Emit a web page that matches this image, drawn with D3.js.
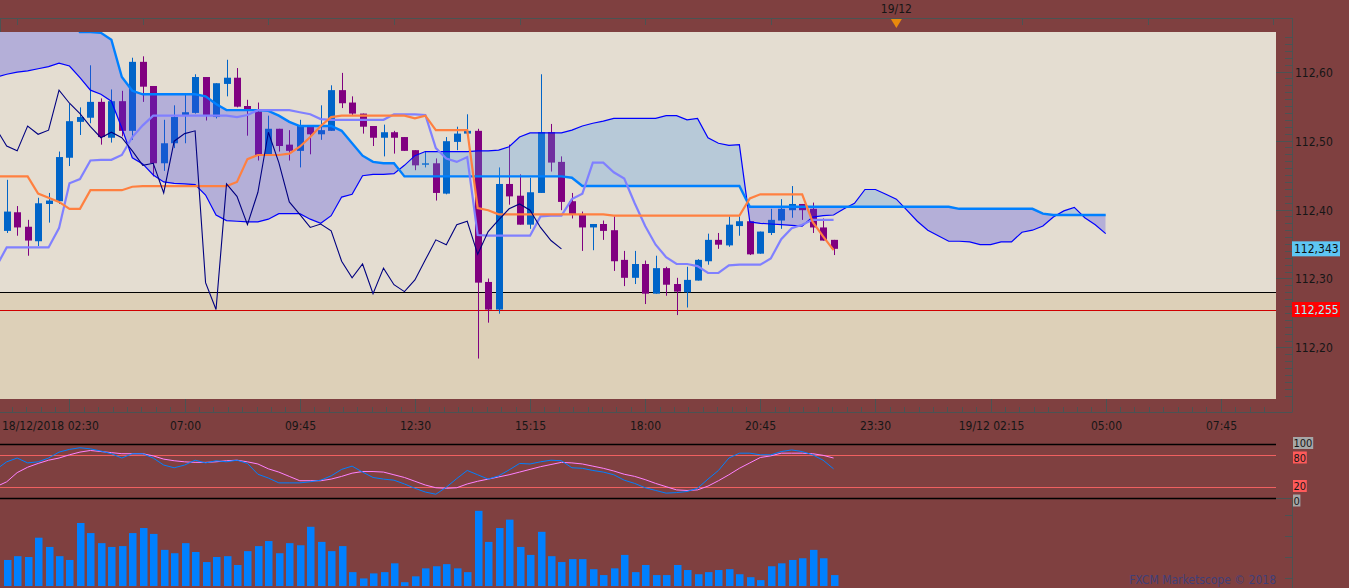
<!DOCTYPE html>
<html><head><meta charset="utf-8">
<script src="https://cdn.jsdelivr.net/npm/d3@7"></script>
<style>html,body{margin:0;padding:0;background:#7f4040;overflow:hidden}
text{font-family:"DejaVu Sans Condensed","Liberation Sans",sans-serif;font-size:12px;fill:#161616}</style>
</head><body>
<svg id="c" width="1349" height="588"></svg>
<script>
// ---------------- data ----------------
// candles: 15-minute bars from 18/12/2018 02:45
const openP = [112.369,112.396,112.375,112.354,112.408,112.412,112.475,112.527,112.533,112.556,
112.504,112.557,112.514,112.614,112.579,112.467,112.496,112.537,112.540,112.592,
112.534,112.582,112.591,112.550,112.542,112.480,112.517,112.494,112.485,112.520,
112.509,112.514,112.573,112.555,112.539,112.521,112.504,112.512,112.505,112.486,
112.465,112.467,112.423,112.498,112.510,112.514,112.295,112.255,112.437,112.420,
112.378,112.424,112.512,112.469,112.412,112.392,112.374,112.379,112.370,112.327,
112.301,112.321,112.278,112.315,112.292,112.280,112.297,112.325,112.356,112.348,
112.376,112.383,112.336,112.366,112.384,112.399,112.408,112.401,112.374,112.356];
const highP = [112.443,112.405,112.385,112.417,112.424,112.484,112.553,112.548,112.609,112.561,
112.574,112.572,112.620,112.622,112.579,112.530,112.551,112.566,112.596,112.592,
112.583,112.617,112.605,112.559,112.555,112.536,112.517,112.515,112.530,112.520,
112.551,112.580,112.598,112.564,112.539,112.521,112.523,112.514,112.505,112.486,
112.484,112.474,112.505,112.520,112.538,112.517,112.300,112.461,112.494,112.451,
112.446,112.596,112.524,112.477,112.424,112.397,112.379,112.384,112.390,112.340,
112.340,112.326,112.333,112.317,112.301,112.317,112.328,112.365,112.366,112.390,
112.390,112.383,112.368,112.401,112.415,112.434,112.408,112.410,112.387,112.356];
const lowP = [112.366,112.362,112.333,112.347,112.381,112.408,112.463,112.508,112.525,112.494,
112.497,112.506,112.501,112.556,112.448,112.456,112.489,112.496,112.539,112.529,
112.532,112.564,112.548,112.507,112.471,112.478,112.484,112.471,112.461,112.480,
112.501,112.514,112.547,112.537,112.510,112.492,112.477,112.481,112.485,112.457,
112.461,112.413,112.422,112.486,112.510,112.184,112.236,112.249,112.407,112.378,
112.372,112.424,112.455,112.399,112.387,112.340,112.341,112.356,112.311,112.289,
112.292,112.263,112.278,112.275,112.247,112.258,112.297,112.320,112.343,112.346,
112.362,112.334,112.336,112.363,112.372,112.388,112.385,112.366,112.355,112.334];
const closeP = [112.397,112.374,112.355,112.409,112.413,112.476,112.528,112.534,112.556,112.505,
112.557,112.514,112.614,112.578,112.467,112.496,112.534,112.541,112.592,112.537,
112.583,112.591,112.549,112.543,112.478,112.517,112.492,112.485,112.521,112.509,
112.515,112.573,112.554,112.539,112.520,112.504,112.512,112.504,112.485,112.464,
112.467,112.424,112.499,112.510,112.514,112.294,112.255,112.437,112.419,112.378,
112.425,112.512,112.468,112.411,112.393,112.374,112.379,112.369,112.325,112.301,
112.321,112.278,112.315,112.291,112.281,112.298,112.327,112.356,112.349,112.378,
112.383,112.335,112.368,112.385,112.401,112.408,112.399,112.374,112.355,112.343];

// indicator lines: start one bar earlier (02:30)
const lineStartBar = -1;
const tenkan = [112.448,112.448,112.448,112.448,112.423,112.417,112.411,112.401,112.401,112.428,112.428,
112.428,112.428,112.433,112.434,112.434,112.434,112.434,112.434,112.434,112.434,
112.434,112.434,112.440,112.473,112.479,112.479,112.479,112.481,112.491,112.505,
112.521,112.534,112.536,112.536,112.536,112.536,112.536,112.536,112.536,112.532,
112.536,112.515,112.515,112.515,112.515,112.402,112.399,112.393,112.393,112.393,
112.393,112.393,112.393,112.393,112.393,112.393,112.393,112.393,112.391,112.391,
112.391,112.391,112.391,112.391,112.391,112.391,112.391,112.391,112.391,112.391,
112.391,112.416,112.422,112.422,112.422,112.422,112.422,112.382,112.361,112.341];
const kijun = [112.317,112.345,112.345,112.345,112.345,112.345,112.373,112.438,112.444,112.471,112.472,
112.472,112.479,112.505,112.522,112.536,112.536,112.536,112.536,112.536,112.536,
112.536,112.536,112.534,112.537,112.544,112.544,112.544,112.544,112.541,112.538,
112.531,112.530,112.530,112.530,112.530,112.530,112.530,112.538,112.538,112.538,
112.537,112.489,112.474,112.469,112.476,112.363,112.362,112.362,112.362,112.362,
112.362,112.390,112.391,112.391,112.415,112.423,112.468,112.468,112.454,112.445,
112.409,112.376,112.349,112.331,112.321,112.321,112.318,112.308,112.308,112.319,
112.320,112.320,112.320,112.329,112.357,112.373,112.378,112.385,112.385,112.385];
const senkouA = [112.592,112.596,112.599,112.601,112.604,112.607,112.612,112.608,112.591,112.573,112.567,
112.557,112.518,112.475,112.466,112.450,112.440,112.438,112.437,112.436,112.421,
112.392,112.384,112.383,112.382,112.382,112.386,112.394,112.394,112.394,112.386,
112.380,112.391,112.418,112.422,112.449,112.451,112.451,112.452,112.464,112.478,
112.484,112.484,112.484,112.484,112.484,112.485,112.485,112.486,112.491,112.505,
112.511,112.511,112.511,112.511,112.515,112.521,112.525,112.528,112.532,112.532,
112.532,112.532,112.532,112.536,112.536,112.530,112.532,112.504,112.496,112.493,
112.494,112.382,112.380,112.379,112.378,112.377,112.376,112.389,112.391,112.392,
112.401,112.409,112.429,112.429,112.422,112.415,112.399,112.383,112.370,112.362,
112.354,112.354,112.353,112.349,112.349,112.353,112.353,112.367,112.370,112.376,
112.389,112.398,112.403,112.388,112.378,112.365];
const senkouB = [112.680,112.680,112.680,112.680,112.680,112.680,112.680,112.680,112.657,112.657,112.656,
112.646,112.592,112.572,112.567,112.567,112.567,112.567,112.567,112.567,112.564,
112.553,112.544,112.544,112.544,112.544,112.543,112.536,112.527,112.521,112.521,
112.521,112.521,112.514,112.496,112.478,112.469,112.467,112.467,112.448,112.448,
112.448,112.448,112.448,112.448,112.448,112.448,112.448,112.448,112.448,112.448,
112.448,112.448,112.448,112.448,112.446,112.434,112.434,112.434,112.434,112.434,
112.434,112.434,112.434,112.434,112.434,112.434,112.434,112.434,112.434,112.434,
112.434,112.404,112.404,112.404,112.404,112.404,112.404,112.404,112.404,112.404,
112.404,112.404,112.404,112.404,112.404,112.404,112.404,112.404,112.404,112.404,
112.404,112.401,112.401,112.401,112.401,112.401,112.401,112.401,112.401,112.394,
112.392,112.392,112.392,112.392,112.392,112.392];
const stochK = [53,67,74,65,67,74,85,90,93,91,87,82,74,82,82,74,61,56,61,70,65,
69,67,70,64,44,37,28,28,28,30,33,41,53,59,48,38,35,33,26,18,
11,7,20,36,51,43,35,41,52,64,63,67,70,69,56,55,51,48,43,33,
27,19,14,9,10,12,18,35,51,74,83,83,80,80,86,89,86,80,70,54];
const stochD = [21,30,47,57,64,70,74,80,85,88,86,84,82,82,82,78,72,69,67,66,66,
67,69,70,67,63,54,48,40,32,32,32,35,40,46,49,49,48,43,38,31,
24,19,18,19,26,31,35,39,43,48,53,58,62,66,65,63,59,55,50,44,
40,34,27,21,15,14,15,22,32,43,55,65,75,78,83,83,83,82,79,74];

// volume: bars from 02:45
const volume = [620,710,690,1150,930,710,620,1500,1260,1020,
930,950,1260,1380,1240,860,780,1020,810,570,
690,710,500,830,950,1070,780,1020,970,1410,
1050,830,950,330,180,300,330,540,90,230,
420,470,520,420,330,1790,1050,1380,1580,930,
740,1290,710,570,640,640,400,260,420,740,
330,500,260,260,500,380,280,330,380,400,
280,210,140,470,540,620,660,860,660,260];

const bottomLabels = ["18/12/2018 02:30","07:00","09:45","12:30","15:15","18:00","20:45","23:30","19/12 02:15","05:00","07:45"];
const topMarkerLabel = "19/12";
const priceTicks = [112.20,112.30,112.40,112.50,112.60];
const stochLevels = [100,80,20,0];
const stochLevelLabels = ["100","80","20","0"];
const volumeTicks = [200,700,1200,1700];
const lastPrice = 112.343, supportPrice = 112.255, levelPrice = 112.28;
const chikouShift = 26;

// ---------------- layout ----------------
const plotL=0, plotR=1276, plotT=32, plotB=399, axisX=1292.5;
const axisCol="#4b5353";
const t0 = Date.UTC(2018,11,18,2,45), barMs = 15*60000;
const barTime = i => new Date(t0 + i*barMs);
const X = d3.scaleUtc().domain([barTime(-0.64), barTime(121.27)]).range([plotL, plotR]);
const xi = i => X(barTime(i));
const xl = (d,i) => xi(i + lineStartBar);
const Y = d3.scaleLinear().domain([112.12536, 112.65725]).range([plotB, plotT]);
const S = d3.scaleLinear().domain([0,100]).range([498,444]);
const V = d3.scaleLinear().domain([0,2000]).range([586,502]);
const fmtP = v => d3.format(".2f")(v).replace(".", ",");
const fmtP3 = v => d3.format(".3f")(v).replace(".", ",");

const svg = d3.select("#c");
svg.append("rect").attr("width",1349).attr("height",588).attr("fill","#7f4040");
const defs = svg.append("defs");
defs.append("clipPath").attr("id","plotClip").append("rect")
  .attr("x",plotL).attr("y",plotT).attr("width",plotR-plotL).attr("height",plotB-plotT);
defs.append("clipPath").attr("id","stochClip").append("rect")
  .attr("x",plotL).attr("y",430).attr("width",plotR-plotL).attr("height",80);
const aboveA = d3.area().x(xl).y0(0).y1(d=>Y(d));
const belowA = d3.area().x(xl).y0(d=>Y(d)).y1(600);
defs.append("clipPath").attr("id","aboveA").append("path").attr("d", aboveA(senkouA));
defs.append("clipPath").attr("id","belowA").append("path").attr("d", belowA(senkouA));

const P = svg.append("g").attr("clip-path","url(#plotClip)");
P.append("rect").attr("x",plotL).attr("y",plotT).attr("width",plotR-plotL).attr("height",plotB-plotT).attr("fill","#e4ddd1");
P.append("rect").attr("x",plotL).attr("y",Y(levelPrice)).attr("width",plotR-plotL).attr("height",plotB-Y(levelPrice)).attr("fill","#ddd0b8");
P.append("line").attr("x1",plotL).attr("x2",plotR).attr("y1",Math.round(Y(levelPrice))+0.5).attr("y2",Math.round(Y(levelPrice))+0.5).attr("stroke","#000").attr("stroke-width",1);
P.append("line").attr("x1",plotL).attr("x2",plotR).attr("y1",Math.round(Y(supportPrice))+0.5).attr("y2",Math.round(Y(supportPrice))+0.5).attr("stroke","#d00000").attr("stroke-width",1);

// candles
const candles = openP.map((o,i)=>({i,o,h:highP[i],l:lowP[i],c:closeP[i]}));
const cg = P.append("g");
candles.forEach(d=>{
  const cx = Math.round(xi(d.i));
  const col = d.c >= d.o ? "#0064c8" : "#800080";
  cg.append("rect").attr("x",cx).attr("y",Y(d.h)).attr("width",1).attr("height",Math.max(1,Y(d.l)-Y(d.h))).attr("fill",col);
  const top = Y(Math.max(d.o,d.c)), bot = Y(Math.min(d.o,d.c));
  cg.append("rect").attr("x",cx-3).attr("y",top).attr("width",7).attr("height",Math.max(1.5,bot-top)).attr("fill",col);
});

// cloud
const between = d3.area().x(xl).y0((d,i)=>Y(senkouA[i])).y1((d,i)=>Y(senkouB[i]));
P.append("g").attr("clip-path","url(#aboveA)").append("path").attr("d",between(senkouA))
  .attr("fill","rgb(68,71,232)").attr("fill-opacity",0.3);
P.append("g").attr("clip-path","url(#belowA)").append("path").attr("d",between(senkouA))
  .attr("fill","rgb(81,154,232)").attr("fill-opacity",0.3);

const lineGen = d3.line().x(xl).y(d=>Y(d));
P.append("path").attr("d",lineGen(senkouA)).attr("fill","none").attr("stroke","#0000ff").attr("stroke-width",1.2);
P.append("path").attr("d",lineGen(senkouB)).attr("fill","none").attr("stroke","#0080ff").attr("stroke-width",2.4);
P.append("path").attr("d",lineGen(kijun)).attr("fill","none").attr("stroke","#8080ff").attr("stroke-width",2.2);
P.append("path").attr("d",lineGen(tenkan)).attr("fill","none").attr("stroke","#ff8040").attr("stroke-width",2.2);
const chikou = closeP.slice(chikouShift + lineStartBar);
P.append("path").attr("d",lineGen(chikou)).attr("fill","none").attr("stroke","#000080").attr("stroke-width",1.1);

// ---------- top axis ----------
svg.append("line").attr("x1",0).attr("x2",axisX).attr("y1",18.5).attr("y2",18.5).attr("stroke",axisCol);
svg.append("line").attr("x1",0.5).attr("x2",0.5).attr("y1",18).attr("y2",plotT).attr("stroke",axisCol);
const [d0,d1] = X.domain();
d3.utcHour.every(3).range(d0,d1).forEach(t=>{
  const x = Math.round(X(t))+0.5;
  svg.append("line").attr("x1",x).attr("x2",x).attr("y1",18).attr("y2",25).attr("stroke",axisCol);
});
const midnight = new Date(Date.UTC(2018,11,19,0,0));
const mx = X(midnight);
svg.append("path").attr("d",`M${mx-5.5},19 L${mx+5.5},19 L${mx},28 Z`).attr("fill","#e8890c");
svg.append("text").attr("x",mx).attr("y",13).attr("text-anchor","middle").text(topMarkerLabel);

// ---------- right price axis ----------
svg.append("line").attr("x1",axisX).attr("x2",axisX).attr("y1",18).attr("y2",412).attr("stroke",axisCol);
d3.range(112.13,112.655,0.01).forEach(v=>{
  const y = Math.round(Y(v))+0.5;
  svg.append("line").attr("x1",1285).attr("x2",axisX).attr("y1",y).attr("y2",y).attr("stroke",axisCol);
});
priceTicks.forEach(v=>{
  const y = Math.round(Y(v))+0.5;
  svg.append("line").attr("x1",plotR).attr("x2",axisX).attr("y1",y).attr("y2",y).attr("stroke",axisCol);
  svg.append("text").attr("x",1295).attr("y",y+4.5).text(fmtP(v));
});
function tag(v, bg, fg){
  const y = Y(v);
  svg.append("rect").attr("x",1292).attr("y",y-7.5).attr("width",48).attr("height",15).attr("fill",bg);
  svg.append("text").attr("x",1294).attr("y",y+4.5).style("fill",fg).text(fmtP3(v));
}
tag(lastPrice,"#5ec6f4","#101010");
tag(supportPrice,"#ff0000","#9ff6ff");

// ---------- bottom time axis ----------
svg.append("line").attr("x1",0).attr("x2",axisX).attr("y1",412.5).attr("y2",412.5).attr("stroke",axisCol);
const majorStart = Date.UTC(2018,11,18,4,15), majorMs = 165*60000, minorMs = majorMs/8;
for(let t=majorStart-4*minorMs; t<=+d1; t+=minorMs){
  const x = Math.round(X(new Date(t)))+0.5;
  if(x<0) continue;
  svg.append("line").attr("x1",x).attr("x2",x).attr("y1",407).attr("y2",412).attr("stroke",axisCol);
}
let k=0;
for(let t=majorStart; t<=+d1; t+=majorMs, k++){
  const x = Math.round(X(new Date(t)))+0.5;
  svg.append("line").attr("x1",x).attr("x2",x).attr("y1",plotB).attr("y2",412).attr("stroke",axisCol);
  if(k>0 && bottomLabels[k]) svg.append("text").attr("x",x).attr("y",430).attr("text-anchor","middle").text(bottomLabels[k]);
}
svg.append("text").attr("x",2).attr("y",430).text(bottomLabels[0]);

// ---------- stochastic ----------
const labelNudge = {100:-1.5, 80:2, 20:-1.5, 0:2};
stochLevels.forEach((lv,j)=>{
  const y = Math.round(S(lv))+0.5;
  const isEdge = (lv===0||lv===100);
  svg.append("line").attr("x1",0).attr("x2",plotR).attr("y1",y).attr("y2",y)
    .attr("stroke", isEdge ? "#000" : "#f06060").attr("stroke-width",isEdge?1.3:1);
  const lab = stochLevelLabels[j];
  const w = lab.length*6.4+1;
  const cy = y + labelNudge[lv];
  svg.append("rect").attr("x",1293).attr("y",cy-6).attr("width",w).attr("height",12)
    .attr("fill", isEdge ? "#a6a6a6" : "#ff5a5a");
  svg.append("text").attr("x",1293.5).attr("y",cy+4).style("font-size","11px").text(lab);
});
svg.append("line").attr("x1",plotR).attr("x2",axisX).attr("y1",Math.round(S(0))+0.5).attr("y2",Math.round(S(0))+0.5).attr("stroke",axisCol);
const sLine = d3.line().x(xl).y(d=>S(d));
const SG = svg.append("g").attr("clip-path","url(#stochClip)");
SG.append("path").attr("d",sLine(stochD)).attr("fill","none").attr("stroke","#ff80ff").attr("stroke-width",1);
SG.append("path").attr("d",sLine(stochK)).attr("fill","none").attr("stroke","#0080ff").attr("stroke-width",1);

// ---------- volume ----------
svg.append("line").attr("x1",axisX).attr("x2",axisX).attr("y1",500).attr("y2",588).attr("stroke",axisCol);
volumeTicks.forEach(v=>{
  const y = Math.round(V(v))+0.5;
  svg.append("line").attr("x1",1285).attr("x2",axisX).attr("y1",y).attr("y2",y).attr("stroke",axisCol);
});
volume.forEach((v,i)=>{
  const cx = Math.round(xi(i));
  svg.append("rect").attr("x",cx-3).attr("y",V(v)).attr("width",7.5).attr("height",V(0)-V(v)).attr("fill","#0080ff");
});
svg.append("text").attr("x",plotR).attr("y",584).attr("text-anchor","end").style("fill","#3f3f78").text("FXCM Marketscope © 2018");
</script>
</body></html>
